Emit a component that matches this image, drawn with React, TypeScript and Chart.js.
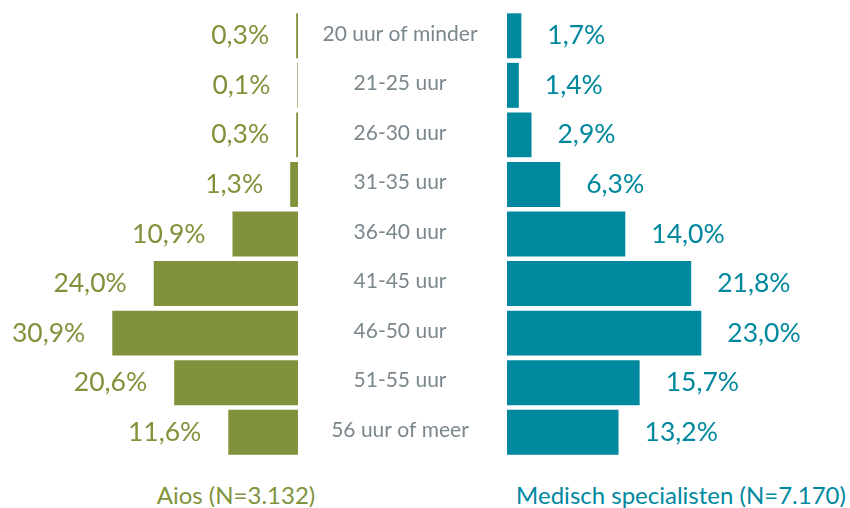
import React, { useEffect, useRef } from "react";
import { Chart, registerables } from "chart.js";

Chart.register(...registerables);

const categories = [
  "20 uur of minder",
  "21-25 uur",
  "26-30 uur",
  "31-35 uur",
  "36-40 uur",
  "41-45 uur",
  "46-50 uur",
  "51-55 uur",
  "56 uur of meer",
];
const aiosValues = [0.3, 0.1, 0.3, 1.3, 10.9, 24.0, 30.9, 20.6, 11.6];
const specialistValues = [1.7, 1.4, 2.9, 6.3, 14.0, 21.8, 23.0, 15.7, 13.2];
const aiosTitle = "Aios (N=3.132)";
const specialistTitle = "Medisch specialisten (N=7.170)";

const GREEN = "#80933c";
const TEAL = "#00889f";
const GRAY = "#7a878d";
const FONT = "Lato, 'Open Sans', sans-serif";

const fmt = (v: number) => v.toFixed(1).replace(".", ",") + "%";

function makeLabelPlugin(side: "left" | "right", color: string) {
  return {
    id: "valueLabels" + side,
    afterDatasetsDraw(chart: any) {
      const ctx = chart.ctx;
      const meta = chart.getDatasetMeta(0);
      const data = chart.data.datasets[0].data as number[];
      ctx.save();
      ctx.font = `26.5px ${FONT}`;
      ctx.fillStyle = color;
      ctx.textBaseline = "middle";
      meta.data.forEach((bar: any, i: number) => {
        const { x, y } = bar.getProps(["x", "y"], true);
        if (side === "left") {
          ctx.textAlign = "right";
          ctx.fillText(fmt(data[i]), x - 27, y);
        } else {
          ctx.textAlign = "left";
          ctx.fillText(fmt(data[i]), x + 26, y);
        }
      });
      ctx.restore();
    },
  };
}

const categoryLabelPlugin = {
  id: "categoryLabels",
  afterDatasetsDraw(chart: any) {
    const ctx = chart.ctx;
    const yScale = chart.scales.y;
    const cx = chart.chartArea.left - 107;
    ctx.save();
    ctx.font = `21px ${FONT}`;
    ctx.fillStyle = GRAY;
    ctx.textAlign = "center";
    ctx.textBaseline = "middle";
    (chart.data.labels as string[]).forEach((label, i) => {
      ctx.fillText(label, cx, yScale.getPixelForValue(i) - 2);
    });
    ctx.restore();
  },
};

export default function App() {
  const leftRef = useRef<HTMLCanvasElement>(null);
  const rightRef = useRef<HTMLCanvasElement>(null);

  useEffect(() => {
    const left = new Chart(leftRef.current!, {
      type: "bar",
      data: {
        labels: categories,
        datasets: [
          {
            data: aiosValues,
            backgroundColor: GREEN,
            barPercentage: 0.907,
            categoryPercentage: 1,
          },
        ],
      },
      options: {
        indexAxis: "y",
        animation: false,
        responsive: true,
        maintainAspectRatio: false,
        layout: { padding: 0 },
        plugins: { legend: { display: false }, tooltip: { enabled: false } },
        scales: {
          x: { display: false, reverse: true, min: 0, max: 49.58 },
          y: { display: false },
        },
      },
      plugins: [makeLabelPlugin("left", GREEN)],
    });

    const right = new Chart(rightRef.current!, {
      type: "bar",
      data: {
        labels: categories,
        datasets: [
          {
            data: specialistValues,
            backgroundColor: TEAL,
            barPercentage: 0.907,
            categoryPercentage: 1,
          },
        ],
      },
      options: {
        indexAxis: "y",
        animation: false,
        responsive: true,
        maintainAspectRatio: false,
        layout: { padding: { left: 209, right: 0, top: 0, bottom: 0 } },
        plugins: { legend: { display: false }, tooltip: { enabled: false } },
        scales: {
          x: { display: false, min: 0, max: 40.6 },
          y: { display: false },
        },
      },
      plugins: [makeLabelPlugin("right", TEAL), categoryLabelPlugin],
    });

    return () => {
      left.destroy();
      right.destroy();
    };
  }, []);

  return (
    <div
      style={{
        position: "absolute",
        left: 0,
        top: 0,
        width: 850,
        height: 508,
        background: "#fff",
        overflow: "hidden",
      }}
    >
      <div style={{ position: "absolute", left: 0, top: 11, width: 298, height: 446 }}>
        <canvas ref={leftRef} />
      </div>
      <div style={{ position: "absolute", left: 298, top: 11, width: 552, height: 446 }}>
        <canvas ref={rightRef} />
      </div>
      <div
        style={{
          position: "absolute",
          left: 136,
          width: 200,
          top: 480,
          lineHeight: "30px",
          textAlign: "center",
          color: GREEN,
          font: `24px ${FONT}`,
          whiteSpace: "nowrap",
        }}
      >
        {aiosTitle}
      </div>
      <div
        style={{
          position: "absolute",
          left: 481,
          width: 400,
          top: 480,
          lineHeight: "30px",
          textAlign: "center",
          color: TEAL,
          font: `24px ${FONT}`,
          whiteSpace: "nowrap",
        }}
      >
        {specialistTitle}
      </div>
    </div>
  );
}
